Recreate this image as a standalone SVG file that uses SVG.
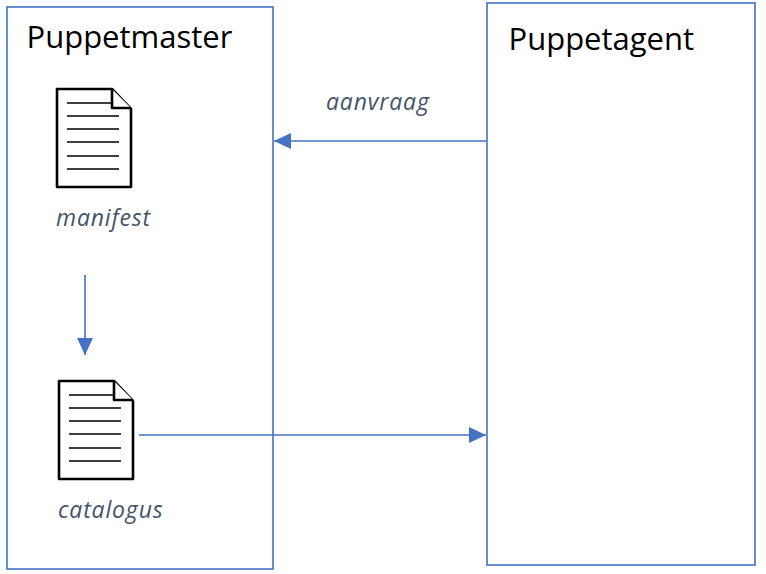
<svg xmlns="http://www.w3.org/2000/svg" width="766" height="574" viewBox="0 0 766 574">
<style>
.box{fill:#fff;stroke:#4472c4;stroke-width:1.6}
.title{font:31px "Open Sans","Noto Sans",sans-serif;fill:#000}
.lab{font:italic 23px "Open Sans","Noto Sans",sans-serif;letter-spacing:.85px;fill:#44546a}
.conn{stroke:#4472c4;stroke-width:1.6;fill:none}
.doc{fill:#fff;stroke:#000;stroke-width:2.6;stroke-linejoin:round}
.ln{stroke:#000;stroke-width:1.5}
</style>
<defs>
<marker id="arr" markerUnits="userSpaceOnUse" markerWidth="18" markerHeight="16" refX="17" refY="8" orient="auto"><path d="M0 0L17 8L0 16Z" fill="#4472c4"/></marker>
<g id="docicon">
<path class="doc" d="M0 0H55L74 20V98H0Z"/>
<path class="doc" d="M55 0V19H74" fill="none"/>
<path class="ln" d="M10 14H54M10 27H62M10 40H62M10 53H62M10 67H62M10 80H62"/>
</g>
</defs>
<g id="puppetmaster"><rect class="box" x="7" y="7" width="266" height="562"/><text class="title" x="26.5" y="48">Puppetmaster</text></g>
<g id="puppetagent"><rect class="box" x="487" y="3" width="268" height="562"/><text class="title" x="508.5" y="50">Puppetagent</text></g>
<g id="manifest"><use href="#docicon" x="57" y="89"/><text class="lab" x="56" y="226">manifest</text></g>
<g id="catalogus"><use href="#docicon" x="59" y="381"/><text class="lab" x="58" y="518">catalogus</text></g>
<g id="aanvraag-label"><text class="lab" x="326" y="110">aanvraag</text></g>
<g id="connectors">
<path class="conn" d="M487 141H274" marker-end="url(#arr)"/>
<path class="conn" d="M85 275V355" marker-end="url(#arr)"/>
<path class="conn" d="M139 435H486" marker-end="url(#arr)"/>
</g>
</svg>
